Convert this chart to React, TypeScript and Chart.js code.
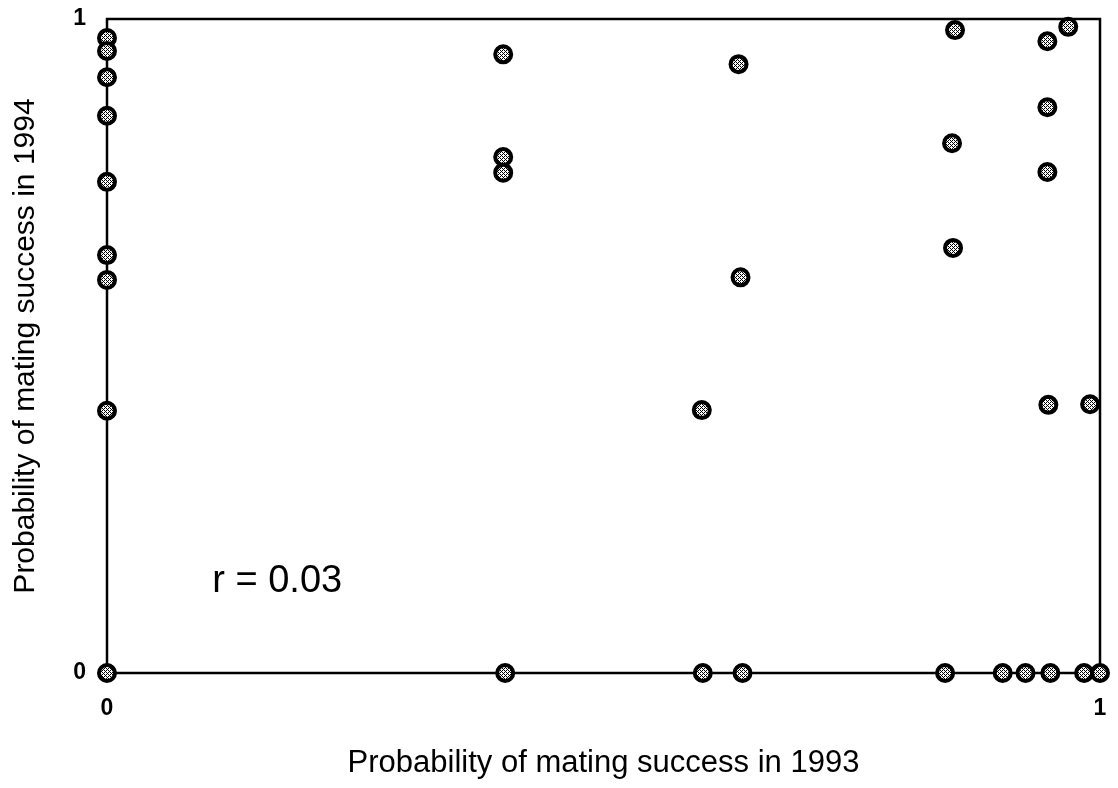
import React, { useEffect, useRef } from "react";
import { Chart, registerables } from "chart.js";

Chart.register(...registerables);

// Probability of mating success per individual, 1993 (x) vs 1994 (y)
const success1993: number[] = [
  0, 0, 0, 0, 0, 0, 0, 0, 0,
  0.399, 0.399, 0.399, 0.401,
  0.599, 0.6,
  0.636, 0.638, 0.64,
  0.854, 0.851, 0.852, 0.844,
  0.902, 0.925,
  0.947, 0.947, 0.947, 0.948, 0.95,
  0.968, 0.99, 0.984, 1.0,
];
const success1994: number[] = [
  0.971, 0.951, 0.911, 0.852, 0.751, 0.639, 0.601, 0.401, 0,
  0.946, 0.789, 0.765, 0,
  0.402, 0,
  0.931, 0.605, 0,
  0.983, 0.81, 0.65, 0,
  0, 0,
  0.966, 0.865, 0.766, 0.41, 0,
  0.988, 0.411, 0, 0,
];
const xTickLabels = ["0", "1"];
const yTickLabels = ["0", "1"];
const xTitle = "Probability of mating success in 1993";
const yTitle = "Probability of mating success in 1994";
const correlationText = "r = 0.03";

const FONT = "'Liberation Sans', Arial, sans-serif";

function makeDotPattern(): CanvasPattern | string {
  const c = document.createElement("canvas");
  c.width = 4;
  c.height = 4;
  const g = c.getContext("2d");
  if (!g) return "#888";
  g.fillStyle = "#ffffff";
  g.fillRect(0, 0, 4, 4);
  g.fillStyle = "#000000";
  const dark = [
    [0, 0], [2, 0], [0, 2], [2, 2], [1, 3], [3, 1],
  ];
  dark.forEach(([x, y]) => g.fillRect(x, y, 1, 1));
  const p = g.createPattern(c, "repeat");
  return p || "#888";
}

// frame around the plotting area, drawn beneath the markers
const framePlugin = {
  id: "frame",
  beforeDatasetsDraw(chart: any) {
    const { ctx, chartArea } = chart;
    ctx.save();
    ctx.strokeStyle = "#000";
    ctx.lineWidth = 2.5;
    ctx.strokeRect(
      chartArea.left,
      chartArea.top,
      chartArea.right - chartArea.left,
      chartArea.bottom - chartArea.top
    );
    ctx.restore();
  },
};

// correlation coefficient annotation
const annotationPlugin = {
  id: "rLabel",
  afterDatasetsDraw(chart: any) {
    const { ctx, scales } = chart;
    ctx.save();
    ctx.fillStyle = "#000";
    ctx.font = `38px ${FONT}`;
    ctx.textAlign = "left";
    ctx.textBaseline = "alphabetic";
    ctx.fillText(
      correlationText,
      scales.x.getPixelForValue(0.106),
      scales.y.getPixelForValue(0.124)
    );
    ctx.restore();
  },
};

export default function App() {
  const canvasRef = useRef<HTMLCanvasElement | null>(null);

  useEffect(() => {
    if (!canvasRef.current) return;
    const points = success1993.map((x, i) => ({ x, y: success1994[i] }));
    const chart = new Chart(canvasRef.current, {
      type: "scatter",
      data: {
        datasets: [
          {
            data: points,
            pointRadius: 8,
            pointHoverRadius: 8,
            pointBorderWidth: 4,
            pointBorderColor: "#000",
            pointBackgroundColor: makeDotPattern() as any,
            clip: false as any,
          },
        ],
      },
      options: {
        animation: false,
        responsive: true,
        maintainAspectRatio: false,
        layout: { padding: { top: 19, right: 18, left: 0, bottom: 0 } },
        plugins: {
          legend: { display: false },
          tooltip: { enabled: false },
        },
        scales: {
          x: {
            type: "linear",
            min: 0,
            max: 1,
            grid: { display: false, drawTicks: false },
            border: { display: false },
            afterFit(scale: any) {
              scale.height = 115;
              scale.paddingLeft = 0;
              scale.paddingRight = 0;
            },
            ticks: {
              stepSize: 1,
              padding: 22,
              color: "#000",
              font: { family: FONT, size: 23, weight: "bold" },
              callback: (v: any) => (v === 0 ? xTickLabels[0] : v === 1 ? xTickLabels[1] : ""),
            },
            title: {
              display: true,
              text: xTitle,
              color: "#000",
              font: { family: FONT, size: 31 },
              padding: { top: 0, bottom: 6 },
            },
          },
          y: {
            type: "linear",
            min: 0,
            max: 1,
            grid: { display: false, drawTicks: false },
            border: { display: false },
            afterFit(scale: any) {
              scale.width = 107;
              scale.paddingTop = 0;
              scale.paddingBottom = 0;
            },
            ticks: {
              stepSize: 1,
              padding: 21,
              color: "#000",
              font: { family: FONT, size: 23, weight: "bold" },
              callback: (v: any) => (v === 0 ? yTickLabels[0] : v === 1 ? yTickLabels[1] : ""),
            },
            title: {
              display: true,
              text: yTitle,
              color: "#000",
              font: { family: FONT, size: 30 },
              padding: { top: 8, bottom: 0 },
            },
          },
        },
      },
      plugins: [framePlugin, annotationPlugin],
    });
    return () => chart.destroy();
  }, []);

  return (
    <div style={{ position: "absolute", left: 0, top: 0, width: 1118, height: 788, background: "#fff" }}>
      <canvas ref={canvasRef} />
    </div>
  );
}
